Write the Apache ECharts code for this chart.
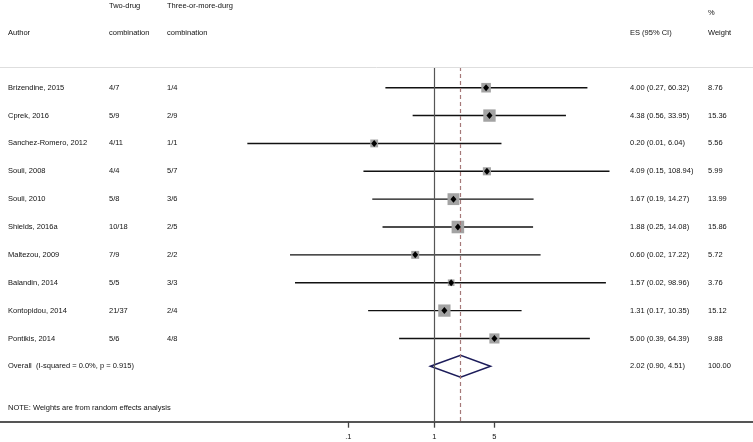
<!DOCTYPE html>
<html>
<head>
<meta charset="utf-8">
<script src="https://cdn.jsdelivr.net/npm/echarts@6/dist/echarts.min.js"></script>
<style>
html,body{margin:0;padding:0;background:#fff;}
#chart{width:753px;height:442px;}
</style>
</head>
<body>
<div id="chart"></div>
<script>
// ---- data ----
const authors = ['Brizendine, 2015','Cprek, 2016','Sanchez-Romero, 2012','Souli, 2008','Souli, 2010','Shields, 2016a','Maltezou, 2009','Balandin, 2014','Kontopidou, 2014','Pontikis, 2014'];
const twoDrug = ['4/7','5/9','4/11','4/4','5/8','10/18','7/9','5/5','21/37','5/6'];
const threeDrug = ['1/4','2/9','1/1','5/7','3/6','2/5','2/2','3/3','2/4','4/8'];
const es = [4.00,4.38,0.20,4.09,1.67,1.88,0.60,1.57,1.31,5.00];
const lo = [0.27,0.56,0.0067,0.15,0.19,0.25,0.021,0.024,0.17,0.39];
const hi = [60.32,33.95,6.04,108.94,14.27,14.08,17.22,98.96,10.35,64.39];
const weights = [8.76,15.36,5.56,5.99,13.99,15.86,5.72,3.76,15.12,9.88];
const overallLabel = 'Overall  (I-squared = 0.0%, p = 0.915)';
const pooledEs = 2.02, pooledLo = 0.90, pooledHi = 4.51, pooledWeight = 100.00;
const noteText = 'NOTE: Weights are from random effects analysis';
const headerLine1 = ['Two-drug','Three-or-more-durg','%'];
const headerLine2 = ['Author','combination','combination','ES (95% CI)','Weight'];
const xTickValues = [0.1, 1, 5];
const xTickLabels = ['.1','1','5'];

// ---- layout ----
const FONT = "'Liberation Sans', Arial, sans-serif";
const FS = 7.5;
const TXT = '#111';
const colX = {author: 8, two: 109, three: 167, es: 630, w: 708};
const xMin = -434.3/86, xMax = (753-434.3)/86;
const yMin = -3.148, yMax = 11.988;
const topRow = -0.743;
const nRows = authors.length;
const L = v => Math.log10(v);
const fmt = v => v.toFixed(2);

const textRows = authors.map((a,i)=>({
  row: i, cols: [[colX.author,a],[colX.two,twoDrug[i]],[colX.three,threeDrug[i]],
  [colX.es, fmt(es[i])+' ('+fmt(lo[i])+', '+fmt(hi[i])+')'],[colX.w, fmt(weights[i])]]
}));
textRows.push({row: nRows, cols: [[colX.author, overallLabel],
  [colX.es, fmt(pooledEs)+' ('+fmt(pooledLo)+', '+fmt(pooledHi)+')'],[colX.w, pooledWeight.toFixed(2)]]});

const chart = echarts.init(document.getElementById('chart'));
function t(x,y,s){return {type:'text',x:x,y:y,style:{text:s,fontSize:FS,fontFamily:FONT,fill:TXT,verticalAlign:'middle',align:'left'}};}

chart.setOption({
  animation:false,
  backgroundColor:'#fff',
  grid:{left:0,right:0,top:0,height:421.7,containLabel:false},
  xAxis:{type:'value',min:xMin,max:xMax,position:'bottom',
    axisLine:{show:true,onZero:false,lineStyle:{color:'#555',width:2}},
    axisTick:{show:true,length:6,lineStyle:{color:'#444',width:1.3},customValues:xTickValues.map(L)},
    axisLabel:{show:true,margin:11,fontSize:FS,fontFamily:FONT,color:TXT,customValues:xTickValues.map(L),
      formatter:function(v){let best=0;xTickValues.forEach((tv,k)=>{if(Math.abs(L(tv)-v)<Math.abs(L(xTickValues[best])-v))best=k;});return xTickLabels[best];}},
    splitLine:{show:false}},
  yAxis:{type:'value',inverse:true,min:yMin,max:yMax,show:false},
  graphic:[
    t(colX.two,6,headerLine1[0]), t(colX.three,6,headerLine1[1]), t(colX.w,13,headerLine1[2]),
    t(colX.author,33,headerLine2[0]), t(colX.two,33,headerLine2[1]), t(colX.three,33,headerLine2[2]),
    t(colX.es,33,headerLine2[3]), t(colX.w,33,headerLine2[4]),
    t(colX.author,408.3,noteText)
  ],
  series:[
    {type:'line',data:[],silent:true,z:1,
      markLine:{silent:true,symbol:'none',label:{show:false},animation:false,
        data:[
          [{coord:[0,topRow],lineStyle:{color:'#555',width:1.2,type:'solid'}},{coord:[0,yMax]}],
          [{coord:[L(pooledEs),topRow],lineStyle:{color:'#a57878',width:1.2,type:[4,3]}},{coord:[L(pooledEs),yMax]}],
          [{coord:[xMin,topRow],lineStyle:{color:'#dedede',width:1,type:'solid'}},{coord:[xMax,topRow]}]
        ]}},
    {type:'custom',z:2,clip:false,silent:true,
      data:es.map((e,i)=>[L(lo[i]),L(hi[i]),i]),
      renderItem:function(params,api){
        const p1=api.coord([api.value(0),api.value(2)]);
        const p2=api.coord([api.value(1),api.value(2)]);
        return {type:'line',shape:{x1:p1[0],y1:p1[1],x2:p2[0],y2:p2[1]},style:{stroke:'#111',lineWidth:1.4}};
      }},
    {type:'scatter',z:3,silent:true,symbol:'rect',
      data:es.map((e,i)=>[L(e),i,weights[i]]),
      symbolSize:function(v){return 2.9*Math.sqrt(v[2])+1;},
      itemStyle:{color:'#a3a3a3',opacity:1}},
    {type:'scatter',z:4,silent:true,symbol:'diamond',symbolSize:[6,7],
      data:es.map((e,i)=>[L(e),i]),
      itemStyle:{color:'#000',opacity:1}},
    {type:'custom',z:4,clip:false,silent:true,
      data:[[L(pooledLo),L(pooledEs),L(pooledHi),nRows]],
      renderItem:function(params,api){
        const r=api.value(3), h=0.395;
        const a=api.coord([api.value(0),r]), b=api.coord([api.value(1),r-h]),
              c=api.coord([api.value(2),r]), d=api.coord([api.value(1),r+h]);
        return {type:'polygon',shape:{points:[a,b,c,d]},style:{fill:'none',stroke:'#1c1c5a',lineWidth:1.5}};
      }},
    {type:'custom',z:5,clip:false,silent:true,
      data:textRows.map(r=>[0,r.row]),
      renderItem:function(params,api){
        const rr=textRows[params.dataIndex];
        const y=api.coord([0,api.value(1)])[1];
        return {type:'group',children:rr.cols.map(c=>t(c[0],y,c[1]))};
      }}
  ]
});
</script>
</body>
</html>
